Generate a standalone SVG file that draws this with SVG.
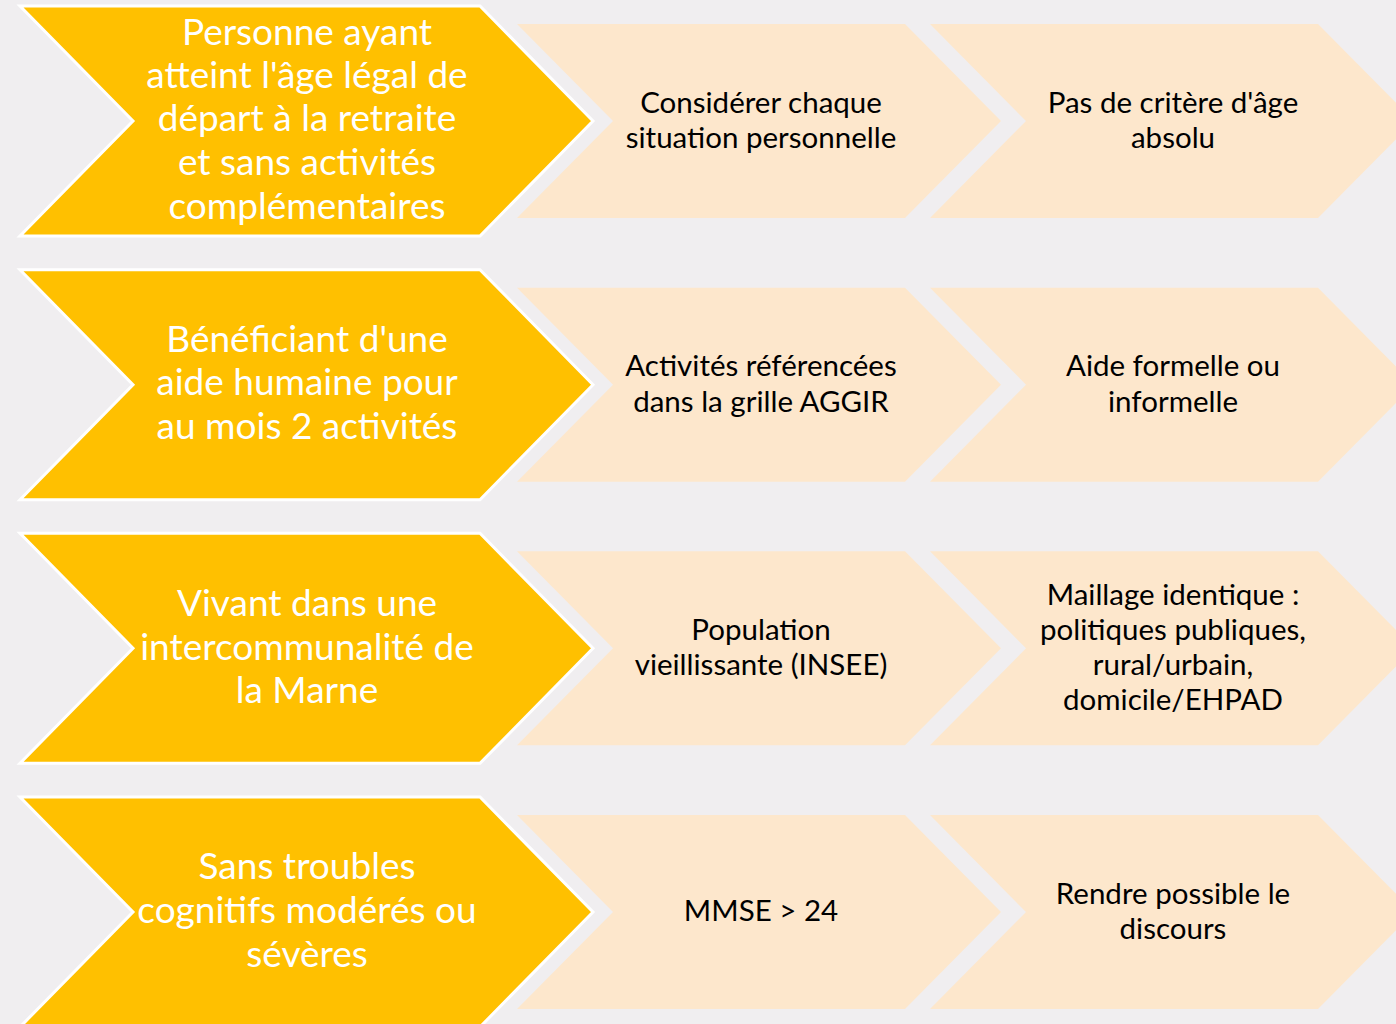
<svg xmlns="http://www.w3.org/2000/svg" width="1396" height="1024" viewBox="0 0 1396 1024">
<style>
.bg{fill:#F0EEF0}
.y{fill:#FFC000;stroke:#FFFFFF;stroke-width:3;stroke-linejoin:miter}
.p{fill:#FDE7CC}
.ty{font-family:Lato,"Open Sans",sans-serif;font-size:37px;fill:#FFFFFF;text-anchor:middle}
.tp{font-family:Lato,"Open Sans",sans-serif;font-size:29.5px;fill:#000000;text-anchor:middle}
</style>
<defs>
<path id="ych" d="M0,-115 L460,-115 L573,0 L460,115 L0,115 L113,0 Z"/>
<path id="pch" d="M0,-97 L388,-97 L484,0 L388,97 L0,97 L96,0 Z"/>
</defs>
<rect class="bg" x="0" y="0" width="1396" height="1024"/>
<g id="connectors"/>
<g id="row1">
<g id="y1"><use href="#ych" class="y" transform="translate(20,121)"/>
<text class="ty"><tspan x="307" y="45">Personne ayant</tspan><tspan x="307" y="88">atteint l'âge légal de</tspan><tspan x="307" y="131">départ à la retraite</tspan><tspan x="307" y="175">et sans activités</tspan><tspan x="307" y="219">complémentaires</tspan></text></g>
<g id="p1a"><use href="#pch" class="p" transform="translate(517,121)"/>
<text class="tp"><tspan x="761" y="113">Considérer chaque</tspan><tspan x="761" y="148">situation personnelle</tspan></text></g>
<g id="p1b"><use href="#pch" class="p" transform="translate(930,121)"/>
<text class="tp"><tspan x="1173" y="113">Pas de critère d'âge</tspan><tspan x="1173" y="148">absolu</tspan></text></g>
</g>
<g id="row2">
<g id="y2"><use href="#ych" class="y" transform="translate(20,384.7)"/>
<text class="ty"><tspan x="307" y="352">Bénéficiant d'une</tspan><tspan x="307" y="395">aide humaine pour</tspan><tspan x="307" y="439">au mois 2 activités</tspan></text></g>
<g id="p2a"><use href="#pch" class="p" transform="translate(517,384.7)"/>
<text class="tp"><tspan x="761" y="376">Activités référencées</tspan><tspan x="761" y="412">dans la grille AGGIR</tspan></text></g>
<g id="p2b"><use href="#pch" class="p" transform="translate(930,384.7)"/>
<text class="tp"><tspan x="1173" y="376">Aide formelle ou</tspan><tspan x="1173" y="412">informelle</tspan></text></g>
</g>
<g id="row3">
<g id="y3"><use href="#ych" class="y" transform="translate(20,648.3)"/>
<text class="ty"><tspan x="307" y="616">Vivant dans une</tspan><tspan x="307" y="660">intercommunalité de</tspan><tspan x="307" y="703">la Marne</tspan></text></g>
<g id="p3a"><use href="#pch" class="p" transform="translate(517,648.3)"/>
<text class="tp"><tspan x="761" y="640">Population</tspan><tspan x="761" y="675">vieillissante (INSEE)</tspan></text></g>
<g id="p3b"><use href="#pch" class="p" transform="translate(930,648.3)"/>
<text class="tp"><tspan x="1173" y="605">Maillage identique :</tspan><tspan x="1173" y="640">politiques publiques,</tspan><tspan x="1173" y="675">rural/urbain,</tspan><tspan x="1173" y="710">domicile/EHPAD</tspan></text></g>
</g>
<g id="row4">
<g id="y4"><use href="#ych" class="y" transform="translate(20,912)"/>
<text class="ty"><tspan x="307" y="879">Sans troubles</tspan><tspan x="307" y="923">cognitifs modérés ou</tspan><tspan x="307" y="967">sévères</tspan></text></g>
<g id="p4a"><use href="#pch" class="p" transform="translate(517,912)"/>
<text class="tp"><tspan x="761" y="921">MMSE &gt; 24</tspan></text></g>
<g id="p4b"><use href="#pch" class="p" transform="translate(930,912)"/>
<text class="tp"><tspan x="1173" y="904">Rendre possible le</tspan><tspan x="1173" y="939">discours</tspan></text></g>
</g>
</svg>
